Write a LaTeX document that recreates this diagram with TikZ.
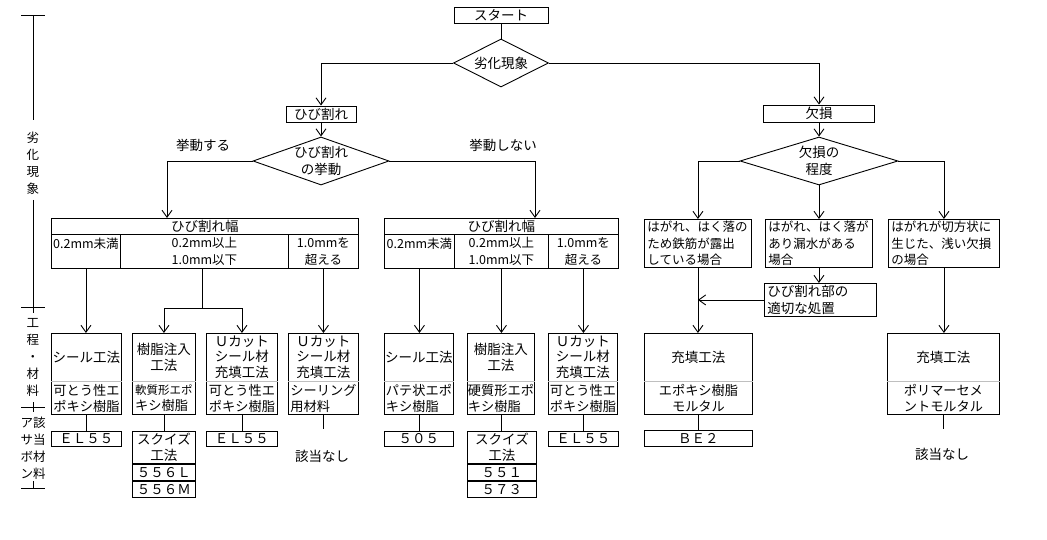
\documentclass[tikz,border=0pt]{standalone}
\usepackage{fontspec}
\setmainfont{Noto Sans CJK JP}
\usetikzlibrary{shapes.geometric,arrows.meta}
\newcommand\methbox[6]{%
  \node[box, minimum width=#3, minimum height=81, anchor=north west] (#1) at (#2,333) {};
  \node[txt, minimum height=48, anchor=north, font=\fontsize{13.5}{15.5}\selectfont] (#1t) at (#1.north) {#4};
  \node[txt, align=#6, minimum width=#3, minimum height=33, anchor=south, font=\fontsize{13.2}{16}\selectfont] (#1b) at (#1.south) {#5};
  \draw[sep] (#1b.north west) -- (#1b.north east);
}
\begin{document}
\begin{tikzpicture}[x=1pt,y=-1pt,
  every node/.style={font=\fontsize{13.5}{16.5}\selectfont, inner sep=0pt},
  box/.style={draw, line width=0.9pt, align=center},
  lbox/.style={draw, line width=0.9pt, align=left, text width=#1},
  dia/.style={draw, line width=0.9pt, diamond, align=center},
  txt/.style={align=center},
  small/.style={font=\fontsize{12.5}{16.5}\selectfont},
  ln/.style={line width=0.9pt},
  arr/.style={line width=0.9pt, -{Straight Barb[length=7pt,width=10pt]}},
  sep/.style={line width=0.6pt, black!25},
  axtxt/.style={align=center, font=\fontsize{12.5}{17}\selectfont},
]
\useasboundingbox (0,0) rectangle (1047,540);

% ---- top ----
\node[box, minimum width=94, minimum height=16] (start) at (501,15) {スタート};
\node[dia, shape aspect=1.98, minimum width=95, minimum height=48] (d1) at (501,63) {劣化現象};
\node[box, minimum width=70, minimum height=16] (crack) at (321,114) {ひび割れ};
\node[box, minimum width=111, minimum height=17] (loss) at (819,113.5) {欠損};
\node[dia, shape aspect=2.83, minimum width=136, minimum height=48] (d2) at (321,161) {ひび割れ\\の挙動};
\node[dia, shape aspect=3.3, minimum width=158, minimum height=48] (d3) at (819,161) {欠損の\\程度};
\node[txt] (l1) at (203,145) {挙動する};
\node[txt] (l2) at (503,145) {挙動しない};

% ---- crack width tables ----
\node[box, minimum width=307, minimum height=16, anchor=north west] (t1h) at (51,218) {ひび割れ幅};
\node[box, small, minimum width=69, minimum height=34, anchor=north west] (t1a) at (51,234) {0.2mm未満\\\mbox{}};
\node[box, small, minimum width=168, minimum height=34, anchor=north west] (t1b) at (120,234) {0.2mm以上\\1.0mm以下};
\node[box, small, minimum width=70, minimum height=34, anchor=north west] (t1c) at (288,234) {1.0mmを\\超える};

\node[box, minimum width=234, minimum height=16, anchor=north west] (t2h) at (384,218) {ひび割れ幅};
\node[box, small, minimum width=70, minimum height=34, anchor=north west] (t2a) at (384,234) {0.2mm未満\\\mbox{}};
\node[box, small, minimum width=94, minimum height=34, anchor=north west] (t2b) at (454,234) {0.2mm以上\\1.0mm以下};
\node[box, small, minimum width=70, minimum height=34, anchor=north west] (t2c) at (548,234) {1.0mmを\\超える};

% ---- loss cases ----
\node[lbox=101, small, minimum width=107, minimum height=48, anchor=north west] (r1) at (644,219) {はがれ、はく落の\\ため鉄筋が露出\\している場合};
\node[lbox=101, small, minimum width=107, minimum height=48, anchor=north west] (r2) at (765,219) {はがれ、はく落が\\あり漏水がある\\場合};
\node[lbox=105, small, minimum width=111, minimum height=48, anchor=north west] (r3) at (888,219) {はがれが切方状に\\生じた、浅い欠損\\の場合};
\node[lbox=106, minimum width=112, minimum height=33, anchor=north west] (r4) at (764,283) {ひび割れ部の\\適切な処置};

% ---- methods ----
\methbox{m1}{51}{70}{シール工法}{可とう性エ\\ポキシ樹脂}{left}
\methbox{m2}{132}{63}{樹脂注入\\工法}{{\fontsize{11.5}{16}\selectfont 軟質形エポ}\\キシ樹脂}{left}
\methbox{m3}{206}{71}{Ｕカット\\シール材\\充填工法}{可とう性エ\\ポキシ樹脂}{left}
\methbox{m4}{288}{70}{Ｕカット\\シール材\\充填工法}{シーリング\\用材料}{left}
\methbox{m5}{384}{69}{シール工法}{パテ状エポ\\キシ樹脂}{left}
\methbox{m6}{467}{67}{樹脂注入\\工法}{硬質形エポ\\キシ樹脂}{left}
\methbox{m7}{548}{69}{Ｕカット\\シール材\\充填工法}{可とう性エ\\ポキシ樹脂}{left}
\methbox{m8}{644}{108}{充填工法}{エポキシ樹脂\\モルタル}{center}
\methbox{m9}{887}{112}{充填工法}{ポリマーセメ\\ントモルタル}{left}

% ---- materials ----
\node[box, minimum width=70, minimum height=15, anchor=north west] (e1) at (51,431) {ＥＬ５５};
\node[box, minimum width=63, minimum height=32, anchor=north west] (s1) at (132,431) {スクイズ\\工法};
\node[box, minimum width=63, minimum height=16, anchor=north west] (s1a) at (s1.south west) {５５６Ｌ};
\node[box, minimum width=63, minimum height=16, anchor=north west] (s1b) at (s1a.south west) {５５６Ｍ};
\node[box, minimum width=71, minimum height=15, anchor=north west] (e2) at (206,431) {ＥＬ５５};
\node[txt] (n1) at (322,456) {該当なし};
\node[box, minimum width=69, minimum height=15, anchor=north west] (p1) at (384,431) {５０５};
\node[box, minimum width=69, minimum height=32, anchor=north west] (s2) at (467,431) {スクイズ\\工法};
\node[box, minimum width=69, minimum height=16, anchor=north west] (s2a) at (s2.south west) {５５１};
\node[box, minimum width=69, minimum height=16, anchor=north west] (s2b) at (s2a.south west) {５７３};
\node[box, minimum width=70, minimum height=15, anchor=north west] (e3) at (548,431) {ＥＬ５５};
\node[box, minimum width=108, minimum height=16, anchor=north west] (b1) at (644,430) {ＢＥ２};
\node[txt] (n2) at (942,454) {該当なし};

% ---- connectors ----
\draw[ln] (start) -- (d1);
\draw[arr] (d1.west) -| (crack.north);
\draw[arr] (d1.east) -| (loss.north);
\draw[arr] (crack) -- (d2);
\draw[arr] (loss) -- (d3);
\coordinate (t1in) at (167,218);
\coordinate (t2in) at (535,218);
\draw[arr] (d2.west) -| (t1in);
\draw[arr] (d2.east) -| (t2in);

\draw[arr] (t1a.south) -- (t1a.south |- m1.north);
\coordinate (sp1) at (202,308);
\draw[ln] (sp1 |- t1b.south) -- (sp1);
\draw[arr] (sp1) -| (m2.north);
\draw[arr] (sp1) -| (m3.north);
\draw[arr] (t1c.south) -- (t1c.south |- m4.north);
\draw[arr] (t2a.south) -- (t2a.south |- m5.north);
\draw[arr] (t2b.south) -- (t2b.south |- m6.north);
\draw[arr] (t2c.south) -- (t2c.south |- m7.north);

\draw[arr] (d3.west) -| (r1.north);
\draw[arr] (d3.south) -- (d3.south |- r2.north);
\draw[arr] (d3.east) -| (r3.north);
\draw[arr] (r2.south) -- (r2.south |- r4.north);
\draw[arr] (r1.south) -- (r1.south |- m8.north);
\draw[arr] (r4.west) -- (r4.west -| r1.south);
\draw[arr] (r3.south) -- (r3.south |- m9.north);

\draw[ln] (m1.south) -- (m1.south |- e1.north);
\draw[ln] (m2.south) -- (m2.south |- s1.north);
\draw[ln] (m3.south) -- (m3.south |- e2.north);
\coordinate (m4end) at ([yshift=-14pt]m4.south);
\draw[ln] (m4.south) -- (m4end);
\draw[ln] (m5.south) -- (m5.south |- p1.north);
\draw[ln] (m6.south) -- (m6.south |- s2.north);
\draw[ln] (m7.south) -- (m7.south |- e3.north);
\draw[ln] (m8.south) -- (m8.south |- b1.north);
\coordinate (m9end) at ([yshift=-14pt]m9.south);
\draw[ln] (m9.south) -- (m9end);

% ---- left axis ----
\draw[ln] (21,15) -- (45,15);
\draw[ln] (33,15) -- (33,120);
\node[axtxt] (ax1) at (33,163) {劣\\化\\現\\象};
\draw[ln] (33,200) -- (33,313);
\draw[ln] (21,307) -- (45,307);
\node[axtxt] (ax2) at (33,357) {工\\程\\・\\材\\料};
\draw[ln] (21,407) -- (45,407);
\draw[ln] (33,402) -- (33,412);
\node[axtxt] (ax3) at (33,448) {ア該\\サ当\\ボ材\\ン料};
\draw[ln] (33,481) -- (33,488);
\draw[ln] (21,488) -- (45,488);
\end{tikzpicture}
\end{document}
